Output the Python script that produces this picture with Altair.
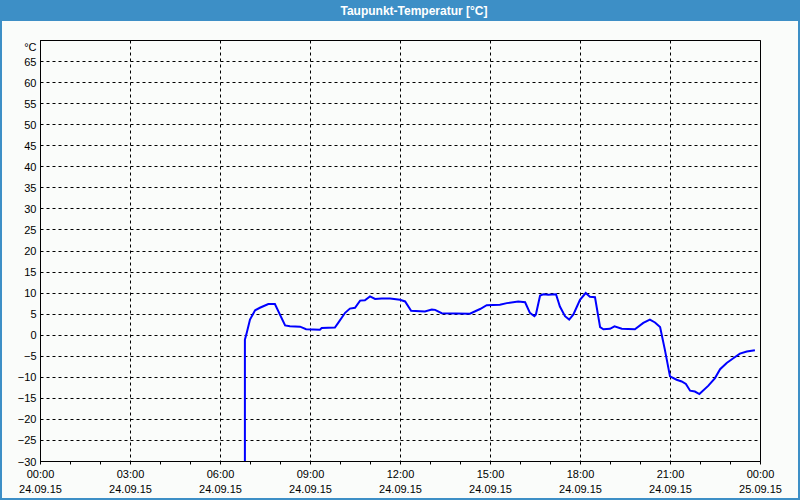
import altair as alt
import pandas as pd

# hours since 24.09.15 00:00
hours = [6.83, 6.83, 6.89, 7.0, 7.17, 7.33, 7.61, 7.83, 8.17, 8.33, 8.67, 8.87, 9.33, 9.39, 9.83, 9.94,
         10.17, 10.33, 10.5, 10.67, 10.83, 11.0, 11.17, 11.39, 11.67, 12.0, 12.17, 12.37, 12.83, 13.06,
         13.17, 13.39, 14.33, 14.67, 14.89, 15.33, 15.56, 15.94, 16.17, 16.33, 16.48, 16.53, 16.67, 16.78,
         16.94, 17.2, 17.33, 17.5, 17.64, 17.78, 18.0, 18.19, 18.33, 18.5, 18.67, 18.78, 19.0, 19.15,
         19.39, 19.83, 20.11, 20.33, 20.5, 20.67, 20.83, 21.0, 21.22, 21.39, 21.53, 21.67, 21.83, 21.98,
         22.28, 22.5, 22.67, 22.89, 23.11, 23.33, 23.56, 23.83]
dewpoint = [-40, -1.2, 0.4, 3.6, 5.8, 6.4, 7.3, 7.3, 2.2, 2.0, 1.9, 1.3, 1.2, 1.6, 1.7, 2.8,
            5.2, 6.2, 6.4, 8.1, 8.2, 9.1, 8.5, 8.6, 8.6, 8.3, 7.9, 5.7, 5.5, 6.0,
            5.9, 5.1, 5.0, 6.1, 7.0, 7.1, 7.5, 7.9, 7.7, 5.2, 4.4, 4.8, 9.3, 9.6,
            9.5, 9.6, 6.7, 4.4, 3.6, 4.8, 8.3, 9.9, 9.0, 8.9, 1.8, 1.3, 1.4, 2.0,
            1.4, 1.3, 2.8, 3.6, 2.9, 1.8, -3.6, -9.9, -10.7, -11.1, -11.7, -13.3, -13.5, -14.1,
            -12.1, -10.3, -8.2, -6.7, -5.6, -4.5, -4.0, -3.7]

tick_times = ["00:00", "03:00", "06:00", "09:00", "12:00", "15:00", "18:00", "21:00", "00:00"]
tick_dates = ["24.09.15"] * 8 + ["25.09.15"]
x_ticks = list(range(0, 25))
y_ticks = list(range(-30, 75, 5))
title_text = "Taupunkt-Temperatur [°C]"

df = pd.DataFrame({"h": hours, "v": dewpoint})
one = pd.DataFrame({"a": [0]})

times_js = "[" + ",".join("'%s'" % t for t in tick_times) + "]"
dates_js = "[" + ",".join("'%s'" % d for d in tick_dates) + "]"
x_label_expr = ("datum.value % 3 == 0 ? [" + times_js + "[datum.value/3], " + dates_js +
                "[datum.value/3]] : ''")

FONT = "Liberation Sans"
BLUE = "#3D8FC6"

x_enc = alt.X("h:Q", scale=alt.Scale(domain=[0, 24], nice=False, zero=False),
              axis=alt.Axis(values=x_ticks, title=None, labelExpr=x_label_expr,
                            labelFlush=False, labelOverlap=False, labelLineHeight=15,
                            labelPadding=4, tickSize=3, tickColor="black", domainColor="black",
                            gridColor="black", gridDash=[3, 3],
                            gridOpacity={"condition": {"test": "datum.value % 3 == 0", "value": 1},
                                         "value": 0},
                            labelFont=FONT, labelFontSize=11, labelColor="black"))
y_enc = alt.Y("v:Q", scale=alt.Scale(domain=[-30, 70], nice=False, zero=False),
              axis=alt.Axis(values=y_ticks, title=None, ticks=False, labelPadding=4,
                            labelExpr="datum.value == 70 ? '°C' : datum.label",
                            labelBaseline={"condition": {"test": "datum.value == 70", "value": "top"},
                                           "value": "middle"},
                            labelOffset=1, domainColor="black", gridColor="black", gridDash=[3, 3],
                            labelFont=FONT, labelFontSize=11, labelColor="black"))

line = alt.Chart(df).mark_line(color="#0000FF", strokeWidth=2, clip=True).encode(x=x_enc, y=y_enc)

title_bar = alt.Chart(one).mark_rect(color=BLUE).encode(
    x=alt.value(-40), x2=alt.value(760), y=alt.value(-40), y2=alt.value(-19))
frame = alt.Chart(one).mark_rect(fillOpacity=0, stroke=BLUE, strokeWidth=2).encode(
    x=alt.value(-39), x2=alt.value(759), y=alt.value(-39), y2=alt.value(459))
title = alt.Chart(one).mark_text(color="white", font=FONT, fontSize=12, fontWeight="bold",
                                 baseline="middle", align="center").encode(
    x=alt.value(374), y=alt.value(-29.5), text=alt.value(title_text))

chart = alt.layer(title_bar, frame, line, title).properties(
    width=720, height=421,
    autosize=alt.AutoSizeParams(type="none"),
    padding={"left": 40, "top": 40, "right": 40, "bottom": 39},
    background="#FAFCFA",
).configure_view(stroke="black", strokeWidth=1)

chart.save("out.html", embed_options={"renderer": "svg", "actions": False})
